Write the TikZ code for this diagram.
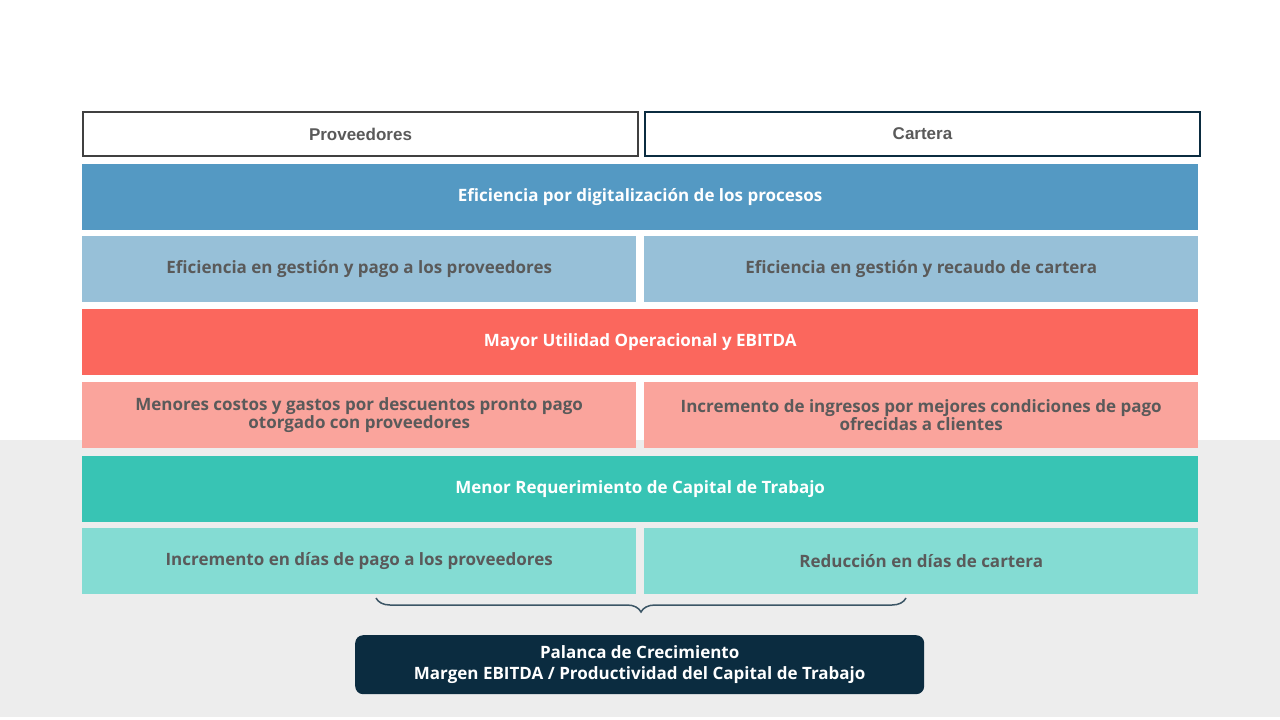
\documentclass[tikz,border=0pt]{standalone}
\usepackage{fontspec}
\setmainfont{Open Sans}
\newfontfamily\hdr{Liberation Sans}
\usetikzlibrary{decorations.pathreplacing}
\definecolor{cblue}{HTML}{5499C3}
\definecolor{clblue}{HTML}{97C0D8}
\definecolor{cred}{HTML}{FB675D}
\definecolor{cpink}{HTML}{FAA49C}
\definecolor{cteal}{HTML}{38C4B4}
\definecolor{clteal}{HTML}{84DCD3}
\definecolor{cnavy}{HTML}{0B2C40}
\definecolor{ctext}{HTML}{5A5A5A}
\definecolor{cbg}{HTML}{EDEDED}
\tikzset{
  box/.style={anchor=north west, inner sep=0pt, align=center, font=\fontsize{17}{20}\selectfont\bfseries},
  full/.style={box, minimum width=1116pt, minimum height=66pt, text=white},
  half/.style={box, minimum width=554pt, minimum height=66pt, text=ctext},
  head/.style={anchor=north west, inner sep=0pt, draw, line width=2pt, fill=white, minimum width=555pt, minimum height=44pt, text=ctext, font=\hdr\fontsize{17}{20}\selectfont\bfseries}
}
\begin{document}
\begin{tikzpicture}[x=1pt,y=-1pt]
\useasboundingbox (0,0) rectangle (1280,720);
\fill[white] (0,0) rectangle (1280,720);
\fill[cbg] (0,440) rectangle (1280,717);
\node[head, draw=black!75] (hp) at (82,111) {Proveedores};
\node[head, draw=cnavy] (hc) at (644,111) {Cartera};
\node[full, fill=cblue] (r1) at (82,164) {Eficiencia por digitalización de los procesos};
\node[half, fill=clblue] (r2a) at (82,236) {Eficiencia en gestión y pago a los proveedores};
\node[half, fill=clblue] (r2b) at (644,236) {Eficiencia en gestión y recaudo de cartera};
\node[full, fill=cred] (r3) at (82,309) {Mayor Utilidad Operacional y EBITDA};
\node[half, fill=cpink] (r4a) at (82,382) {Menores costos y gastos por descuentos pronto pago\\[-2pt]otorgado con proveedores};
\node[half, fill=cpink] (r4b) at (644,382) {Incremento de ingresos por mejores condiciones de pago\\[-2pt]ofrecidas a clientes};
\node[full, fill=cteal] (r5) at (82,456) {Menor Requerimiento de Capital de Trabajo};
\node[half, fill=clteal] (r6a) at (82,528) {Incremento en días de pago a los proveedores};
\node[half, fill=clteal] (r6b) at (644,528) {Reducción en días de cartera};
\coordinate (bl) at (376,598);
\coordinate (br) at (906,598);
\draw[cnavy!80, line width=1.5pt, decorate, decoration={brace, mirror, amplitude=14pt}] (bl) -- (br);
\node[anchor=north west, fill=cnavy, rounded corners=8pt, minimum width=569pt, minimum height=59pt, inner sep=0pt, text=white, align=center, font=\fontsize{17}{21}\selectfont\bfseries] (pal) at (355,635) {Palanca de Crecimiento\\Margen EBITDA / Productividad del Capital de Trabajo};
\end{tikzpicture}
\end{document}
